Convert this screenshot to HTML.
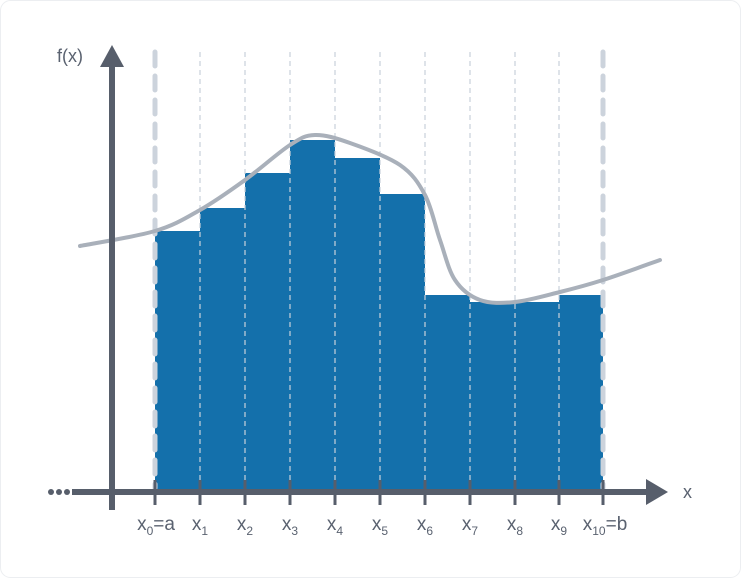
<!DOCTYPE html>
<html><head><meta charset="utf-8"><style>
html,body{margin:0;padding:0;background:#fff}
svg{display:block;font-family:"Liberation Sans",sans-serif}
</style></head><body>
<svg id="chart" width="741" height="578" viewBox="0 0 741 578">
<rect x="0.5" y="0.5" width="740" height="577" rx="10" fill="#fff" stroke="#eceef1"/>
<g id="bars"></g>
<g id="grid"></g>
<path id="curve" fill="none" stroke="#a9b0ba" stroke-width="4" stroke-linecap="round"/>
<g id="axes">
<line x1="72" y1="492" x2="650" y2="492" stroke="#575e6b" stroke-width="6"/>
<polygon points="646,479 668,492 646,505" fill="#575e6b"/>
<line x1="112" y1="64" x2="112" y2="510" stroke="#575e6b" stroke-width="6"/>
<polygon points="100,67 112,45 124,67" fill="#575e6b"/>
<circle cx="51" cy="492" r="3" fill="#575e6b"/>
<circle cx="59" cy="492" r="3" fill="#575e6b"/>
<circle cx="67" cy="492" r="3" fill="#575e6b"/>
<text x="57" y="62" font-size="18" fill="#5a6270">f(x)</text>
<text x="683" y="498" font-size="18" fill="#5a6270">x</text>
</g>
<g id="ticks"></g>
</svg>
<script>
const boundaries=[155,200,245,290,335,380,425,470,515,559,603];
const heights=[261,284,319,352,334,298,197,190,190,197];
const curveX=[80,155,200,245,290,315,350,400,425,440,455,480,515,560,603,660];
const curveY=[246,231,210,180,145,135,143,165,195,240,280,300,302,292,280,260];
const tickNames=["0","1","2","3","4","5","6","7","8","9","10"];
const baseY=492;
const NS="http://www.w3.org/2000/svg";
const bars=document.getElementById('bars'),grid=document.getElementById('grid'),ticks=document.getElementById('ticks');
for(let i=0;i<heights.length;i++){
  const r=document.createElementNS(NS,'rect');
  r.setAttribute('x',boundaries[i]);r.setAttribute('width',boundaries[i+1]-boundaries[i]);
  r.setAttribute('y',baseY-heights[i]);r.setAttribute('height',heights[i]);
  r.setAttribute('fill','#1470ab');
  
  
  bars.appendChild(r);
}
boundaries.forEach((x,i)=>{
  const edge=(i===0||i===boundaries.length-1);
  const l=document.createElementNS(NS,'line');
  l.setAttribute('x1',x);l.setAttribute('x2',x);l.setAttribute('y1',52);l.setAttribute('y2',488);
  l.setAttribute('stroke',edge?'#ccd3dc':'#c8d0da');
  l.setAttribute('stroke-width',edge?5:1.2);
  l.setAttribute('stroke-dasharray',edge?'14 10':'5 4');
  l.setAttribute('stroke-linecap',edge?'round':'butt');
  
  
  grid.appendChild(l);
  const t=document.createElementNS(NS,'line');
  t.setAttribute('x1',x);t.setAttribute('x2',x);t.setAttribute('y1',480);t.setAttribute('y2',505);
  t.setAttribute('stroke','#575e6b');t.setAttribute('stroke-width',3);
  
  
  ticks.appendChild(t);
  const tx=document.createElementNS(NS,'text');
  tx.setAttribute('y',530);tx.setAttribute('font-size',19);tx.setAttribute('fill','#5a6270');
  tx.setAttribute('x',i===0?x+1:(i===boundaries.length-1?x+2:x));
  tx.setAttribute('text-anchor','middle');
  const s1=document.createElementNS(NS,'tspan');s1.textContent='x';tx.appendChild(s1);
  const s2=document.createElementNS(NS,'tspan');s2.setAttribute('font-size',12);s2.setAttribute('dy',5);s2.textContent=tickNames[i];tx.appendChild(s2);
  if(i===0||i===boundaries.length-1){
    const s3=document.createElementNS(NS,'tspan');s3.setAttribute('dy',-5);s3.textContent=i===0?'=a':'=b';tx.appendChild(s3);
  }
  
  
  ticks.appendChild(tx);
});
let d='M'+curveX[0]+','+curveY[0];
for(let i=0;i<curveX.length-1;i++){
  const n=curveX.length-1;
  const a=Math.max(i-1,0),b=Math.min(i+2,n);
  const p0=[curveX[a],curveY[a]],p1=[curveX[i],curveY[i]],p2=[curveX[i+1],curveY[i+1]],p3=[curveX[b],curveY[b]];
  const c1=[p1[0]+(p2[0]-p0[0])/6,p1[1]+(p2[1]-p0[1])/6],c2=[p2[0]-(p3[0]-p1[0])/6,p2[1]-(p3[1]-p1[1])/6];
  d+=' C'+c1.join(',')+' '+c2.join(',')+' '+p2.join(',');
}
document.getElementById('curve').setAttribute('d',d);
</script>
</body></html>
